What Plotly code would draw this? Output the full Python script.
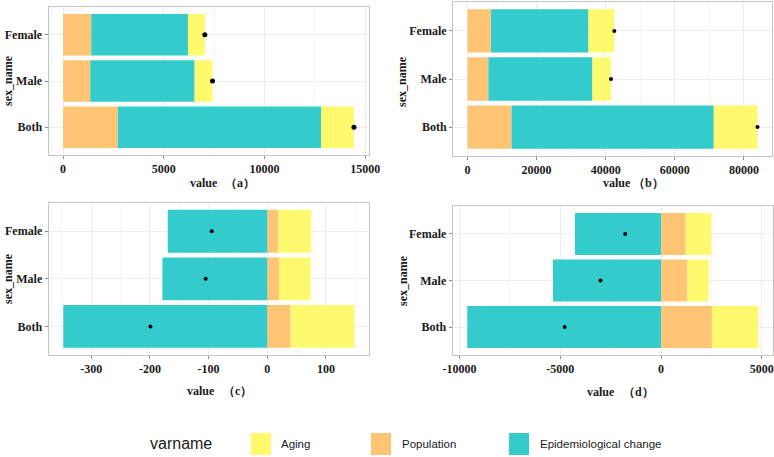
import plotly.graph_objects as go

W, H = 774, 457

# ---------------- data ----------------
sex_names = ["Both", "Male", "Female"]
varnames = ["Aging", "Population", "Epidemiological change"]

# panel (a)
a_population = [2720, 1350, 1400]
a_epidemiological = [10085, 5180, 4800]
a_aging = [1635, 890, 840]
a_ticks = [0, 5000, 10000, 15000]

# panel (b)
b_population = [12755, 6040, 6810]
b_epidemiological = [58500, 30115, 28200]
b_aging = [12660, 5370, 7480]
b_ticks = [0, 20000, 40000, 60000, 80000]

# panel (c)
c_population = [39.7, 19.9, 18.7]
c_epidemiological = [-347.7, -178.7, -169.6]
c_aging = [108.9, 53.8, 56.2]
c_ticks = [-300, -200, -100, 0, 100]

# panel (d)
d_population = [2525, 1304, 1221]
d_epidemiological = [-9620, -5363, -4274]
d_aging = [2310, 1056, 1271]
d_ticks = [-10000, -5000, 0, 5000]

panel_letters = ["a", "b", "c", "d"]

# ---------------- style ----------------
colors = {"Aging": "#FFF96E", "Population": "#FFC575", "Epidemiological change": "#33CBCB"}
serif = "Liberation Serif"
sans = "Liberation Sans"

def px_x(x):
    return x / W

def px_y(y):
    return 1 - y / H

# panel frames in pixels: (left, right, top, bottom)
frames = [
    (48.5, 368.5, 7, 155),
    (453, 772, 2, 156),
    (48.7, 369, 202.7, 355),
    (452.7, 773, 206, 355),
]
dot_sizes = [5, 4, 4, 4]

panels = [
    (a_population, a_epidemiological, a_aging, a_ticks),
    (b_population, b_epidemiological, b_aging, b_ticks),
    (c_population, c_epidemiological, c_aging, c_ticks),
    (d_population, d_epidemiological, d_aging, d_ticks),
]

fig = go.Figure()
layout = {}
for i, (pop, epi, aging, ticks) in enumerate(panels):
    n = i + 1
    xa = "x" if n == 1 else f"x{n}"
    ya = "y" if n == 1 else f"y{n}"
    for name, vals in [("Population", pop), ("Epidemiological change", epi), ("Aging", aging)]:
        fig.add_trace(go.Bar(
            y=sex_names, x=vals, orientation="h", name=name,
            marker=dict(color=colors[name], line=dict(width=0)),
            xaxis=xa, yaxis=ya, showlegend=False,
        ))
    totals = [p + e + g for p, e, g in zip(pop, epi, aging)]
    fig.add_trace(go.Scatter(
        y=sex_names, x=totals, mode="markers",
        marker=dict(color="black", size=dot_sizes[i]),
        xaxis=xa, yaxis=ya, showlegend=False,
    ))

    # ggplot-like 5% expansion of the data range
    lows = [min(0, p) + min(0, e) + min(0, g) for p, e, g in zip(pop, epi, aging)]
    highs = [max(0, p) + max(0, e) + max(0, g) for p, e, g in zip(pop, epi, aging)]
    lo, hi = min(lows + [0]), max(highs + [0])
    pad = 0.05 * (hi - lo)
    step = ticks[1] - ticks[0]
    minor_vals = [t - step / 2 for t in ticks] + [ticks[-1] + step / 2]

    l, r, t, b = frames[i]
    key_x = "xaxis" if n == 1 else f"xaxis{n}"
    key_y = "yaxis" if n == 1 else f"yaxis{n}"
    layout[key_x] = dict(
        domain=[px_x(l), px_x(r)], anchor=ya, range=[lo - pad, hi + pad],
        automargin=False,
        tickmode="array", tickvals=ticks, ticktext=[str(v) for v in ticks],
        tickfont=dict(family=serif, size=12, color="#1a1a1a", weight="bold"),
        ticks="outside", ticklen=3, tickcolor="#8a8a8a",
        showline=True, mirror=True, linecolor="#C4C4C4", linewidth=1,
        showgrid=True, gridcolor="#EDEDED", gridwidth=1, zeroline=False,
        minor=dict(tickvals=minor_vals, showgrid=True, gridcolor="#F6F6F6", ticklen=0),
    )
    layout[key_y] = dict(
        domain=[px_y(b), px_y(t)], anchor=xa, range=[-0.6, 2.6],
        automargin=False,
        type="category", categoryorder="array", categoryarray=sex_names,
        tickfont=dict(family=serif, size=12, color="#1a1a1a", weight="bold"),
        ticks="outside", ticklen=3, tickcolor="#8a8a8a",
        showline=True, mirror=True, linecolor="#C4C4C4", linewidth=1,
        showgrid=True, gridcolor="#EDEDED", zeroline=False,
    )

annotations = []
# x axis titles: "value" + panel letter
title_pos = [
    (204, 240, 183),
    (617, 648, 183),
    (201, 238, 391),
    (601, 638, 392),
]
for (xv, xl, y), letter in zip(title_pos, panel_letters):
    annotations.append(dict(text="value", x=px_x(xv), y=px_y(y), xref="paper", yref="paper",
                            showarrow=False, xanchor="center", yanchor="middle",
                            font=dict(family=serif, size=12, color="#1a1a1a", weight="bold")))
    annotations.append(dict(text=f"（{letter}）", x=px_x(xl), y=px_y(y), xref="paper", yref="paper",
                            showarrow=False, xanchor="center", yanchor="middle",
                            font=dict(family=serif, size=12, color="#1a1a1a", weight="bold")))
# y axis titles
for (xc, yc) in [(8, 81), (402, 82), (8, 279), (403, 280)]:
    annotations.append(dict(text="sex_name", x=px_x(xc), y=px_y(yc), xref="paper", yref="paper",
                            showarrow=False, xanchor="center", yanchor="middle", textangle=-90,
                            font=dict(family=serif, size=12, color="#1a1a1a", weight="bold")))

# legend (drawn manually)
annotations.append(dict(text="varname", x=px_x(148), y=px_y(443), xref="paper", yref="paper",
                        showarrow=False, xanchor="left", yanchor="middle",
                        font=dict(family=sans, size=16, color="#1a1a1a")))
shapes = []
legend_swatch_x = [251, 371, 509]
legend_text_x = [279, 399.5, 538]
for name, sx, tx in zip(varnames, legend_swatch_x, legend_text_x):
    shapes.append(dict(type="rect", xref="paper", yref="paper",
                       x0=px_x(sx), x1=px_x(sx + 20), y0=px_y(455), y1=px_y(433),
                       fillcolor=colors[name], line=dict(width=0)))
    annotations.append(dict(text=name, x=px_x(tx), y=px_y(444), xref="paper", yref="paper",
                            showarrow=False, xanchor="left", yanchor="middle",
                            font=dict(family=sans, size=11.5, color="#1a1a1a")))

fig.update_layout(
    width=W, height=H, margin=dict(l=0, r=0, t=0, b=0),
    paper_bgcolor="white", plot_bgcolor="white",
    barmode="relative", bargap=0.1,
    annotations=annotations, shapes=shapes, showlegend=False,
    **layout,
)

fig.write_html("out.html")
